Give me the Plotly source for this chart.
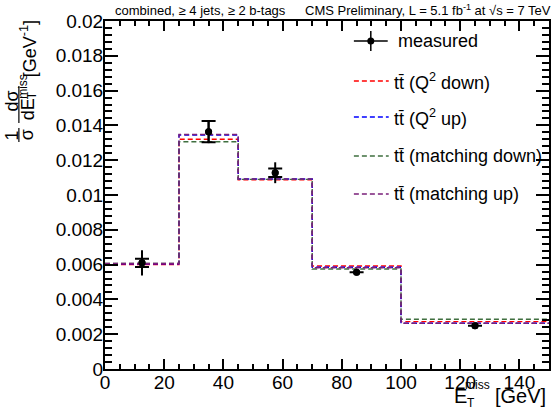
import plotly.graph_objects as go

# ---------------- data ----------------
bin_edges = [0, 25, 45, 70, 100, 150]
bin_centers = [12.5, 35, 57.5, 85, 125]

measured = [0.0061, 0.01364, 0.01128, 0.00556, 0.00249]
measured_stat = [0.00024, 0.00061, 0.00024, None, None]
measured_total = [0.00072, 0.00066, 0.00060, 0.00008, 0.00005]

q2_down = [0.00600, 0.01320, 0.01088, 0.00592, 0.00272]
q2_up = [0.00605, 0.01345, 0.01092, 0.00585, 0.00263]
match_down = [0.00607, 0.01306, 0.01090, 0.00575, 0.00286]
match_up = [0.00607, 0.01348, 0.01092, 0.00582, 0.00263]

series_names = ["tt\u0304 (Q<sup>2</sup> down)", "tt\u0304 (Q<sup>2</sup> up)",
                "tt\u0304 (matching down)", "tt\u0304 (matching up)"]
series_values = [q2_down, q2_up, match_down, match_up]
series_colors = ["#ff0000", "#0000ff", "#3f6f3f", "#7a1f7a"]

x_ticks = [0, 20, 40, 60, 80, 100, 120, 140]
y_tickvals = [0, 0.002, 0.004, 0.006, 0.008, 0.01, 0.012, 0.014, 0.016, 0.018, 0.02]
y_ticktext = ["0", "0.002", "0.004", "0.006", "0.008", "0.01", "0.012", "0.014",
              "0.016", "0.018", "0.02"]

FONT = "Liberation Sans, Arial, Helvetica, sans-serif"
W, H = 555, 416
L, R, T, B = 105, 4, 21, 47
PW, PH = W - L - R, H - T - B
DASH = "5px,3px"


def pp(xpx, ypx):
    """pixel position -> paper coordinates (layout placement only)"""
    return (xpx - L) / PW, (H - B - ypx) / PH


fig = go.Figure()

for name, vals, col in zip(series_names, series_values, series_colors):
    fig.add_trace(go.Scatter(
        x=bin_edges, y=vals + [vals[-1]], mode="lines", line_shape="hv",
        line=dict(color=col, width=1.4, dash=DASH), name=name, showlegend=False,
        hoverinfo="skip"))

# measured: total error (no caps), then stat error with caps
fig.add_trace(go.Scatter(
    x=bin_centers, y=measured, mode="markers",
    marker=dict(color="black", size=7),
    error_y=dict(type="data", array=measured_total, width=0, thickness=2, color="black"),
    showlegend=False))
fig.add_trace(go.Scatter(
    x=bin_centers, y=measured, mode="markers",
    marker=dict(color="black", size=7),
    error_y=dict(type="data", array=measured_stat, width=7, thickness=2, color="black"),
    showlegend=False, name="measured"))

annotations = []
shapes = []


def ann(text, xpx, ypx, size, xanchor="center", yanchor="middle", angle=0):
    x, y = pp(xpx, ypx)
    annotations.append(dict(text=text, x=x, y=y, xref="paper", yref="paper",
                            xanchor=xanchor, yanchor=yanchor, showarrow=False,
                            textangle=angle, font=dict(family=FONT, size=size, color="black")))


def seg(x0, y0, x1, y1, color="black", width=1.5, dash="solid"):
    a, b = pp(x0, y0)
    c, d = pp(x1, y1)
    shapes.append(dict(type="line", xref="paper", yref="paper", x0=a, y0=b, x1=c, y1=d,
                       line=dict(color=color, width=width, dash=dash)))


# ---- legend ----
rows = [41, 81, 117, 156, 194]
seg(355, rows[0], 389, rows[0])
seg(372, rows[0] - 10, 372, rows[0] + 10)
cx, cy = pp(372, rows[0])
shapes.append(dict(type="circle", xref="paper", yref="paper", xsizemode="pixel",
                   ysizemode="pixel", xanchor=cx, yanchor=cy, x0=-3.5, x1=3.5,
                   y0=-3.5, y1=3.5, fillcolor="black", line=dict(color="black", width=0)))
ann("measured", 397, rows[0], 18, xanchor="left")
for ry, name, col in zip(rows[1:], series_names, series_colors):
    seg(355, ry, 390, ry, color=col, width=1.4, dash=DASH)
    ann(name, 393, ry, 18, xanchor="left")

# ---- header ----
ann("combined, \u2265 4 jets, \u2265 2 b-tags", 113, 10, 13, xanchor="left")
ann("CMS Preliminary, L = 5.1 fb<sup>-1</sup> at \u221as = 7 TeV", 304, 10, 13, xanchor="left")

# ---- x title ----
ann("E", 462.5, 396, 20)
ann("miss", 479, 385, 12)
ann("T", 472.5, 403, 12)
ann("[GeV]", 495, 396, 20, xanchor="left")

# ---- y title (rotated fraction) ----
ann("1", 12, 135, 18, angle=-90)
seg(18.5, 128, 18.5, 142, width=1.2)
ann("\u03c3", 27, 135, 18, angle=-90)
ann("d\u03c3", 12, 101, 18, angle=-90)
seg(18.5, 86, 18.5, 123, width=1.2)
ann("dE", 28, 109, 18, angle=-90)
ann("miss", 23, 86.5, 12, angle=-90)
ann("T", 32, 95, 12, angle=-90)
ann("[GeV<sup>-1</sup>]", 28, 49, 18, angle=-90)

axis_common = dict(showline=True, linewidth=2, linecolor="black", mirror="allticks",
                   ticks="inside", tickwidth=1.5, tickcolor="black", showgrid=False,
                   zeroline=False, tickfont=dict(family=FONT, size=19, color="black"))

fig.update_layout(
    width=W, height=H, margin=dict(l=L, r=R, t=T, b=B),
    paper_bgcolor="white", plot_bgcolor="white", showlegend=False,
    xaxis=dict(range=[0, 150], tickvals=x_ticks, ticklen=10, ticklabelstandoff=-5,
               minor=dict(dtick=5, tick0=0, ticklen=5, ticks="inside", tickwidth=1.5,
                          tickcolor="black", showgrid=False),
               **axis_common),
    yaxis=dict(range=[0, 0.02], tickvals=y_tickvals, ticktext=y_ticktext, ticklen=13,
               ticklabelstandoff=-4,
               minor=dict(dtick=0.0004, tick0=0, ticklen=7, ticks="inside", tickwidth=1.5,
                          tickcolor="black", showgrid=False),
               **axis_common),
    annotations=annotations, shapes=shapes,
)

fig.write_html("out.html", config={"displayModeBar": False},
               post_script="document.body.style.margin='0';document.body.style.padding='0';")
